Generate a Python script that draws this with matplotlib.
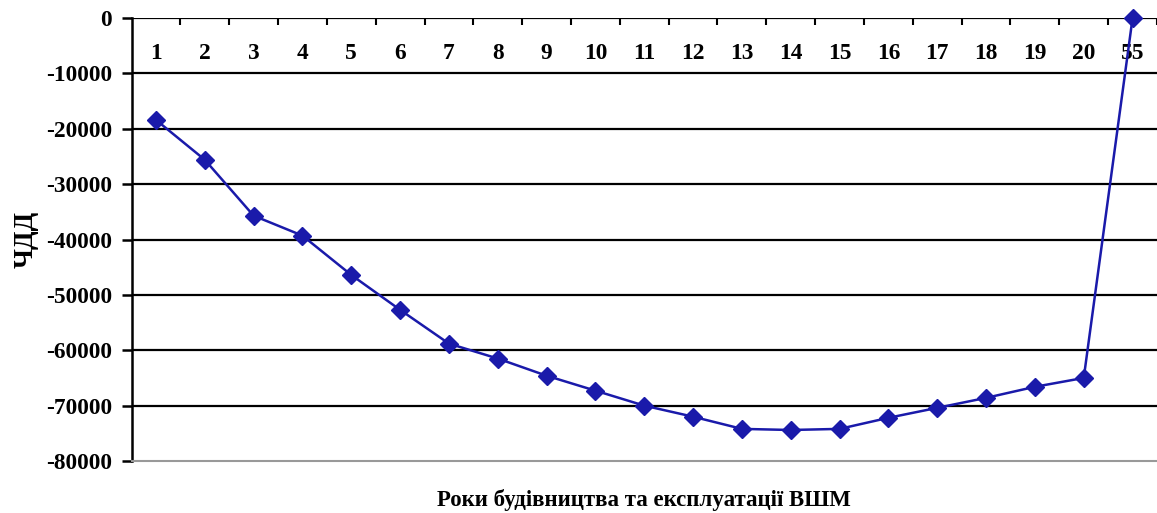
import numpy as np
import matplotlib.pyplot as plt

# Data
years = ['1', '2', '3', '4', '5', '6', '7', '8', '9', '10', '11', '12',
         '13', '14', '15', '16', '17', '18', '19', '20', '55']
npv = [-18400, -25600, -35700, -39300, -46400, -52700, -58800, -61500,
       -64600, -67300, -70000, -72000, -74200, -74400, -74200, -72200,
       -70400, -68600, -66600, -65000, 0]
y_ticks = list(range(0, -80001, -10000))

plt.rcParams['font.family'] = ['Liberation Serif', 'DejaVu Serif']
plt.rcParams['font.weight'] = 'bold'

fig = plt.figure(figsize=(11.57, 5.13), dpi=100)
W, H = 1157, 513
left, right, top, bottom = 131.5, 1157, 18, 461
ax = fig.add_axes([left / W, 1 - bottom / H, (right - left) / W, (bottom - top) / H])

x = np.arange(len(years))
ax.plot(x, npv, color='#1a1aaa', lw=1.8, marker='D', ms=9.5, clip_on=False, zorder=5)

ax.set_ylim(-80000, 0)
ax.set_xlim(-0.5, -0.5 + (right - left) / 49.1)
ax.set_yticks(y_ticks)
ax.set_yticklabels([str(v) for v in y_ticks], fontsize=16.8, fontweight='bold')
for v in y_ticks[:-1]:
    ax.axhline(v, color='black', lw=1.6, zorder=1)

ax.set_xticks(x)
ax.set_xticklabels(years, fontsize=16.8, fontweight='bold')
ax.set_xticks(np.arange(len(years)) + 0.5, minor=True)
ax.tick_params(axis='x', which='major', top=True, labeltop=True, bottom=False,
               labelbottom=False, length=0, pad=-33)
ax.tick_params(axis='x', which='minor', top=True, bottom=False, direction='in',
               length=5, width=1.5)
ax.tick_params(axis='y', length=7, width=1.8, pad=7)

ax.spines['right'].set_visible(False)
ax.spines['top'].set_visible(False)
ax.spines['left'].set_linewidth(1.8)
ax.spines['bottom'].set_color('#999999')
ax.spines['bottom'].set_linewidth(1.5)

ax.set_ylabel('ЧДД', fontsize=19.5, fontweight='bold', labelpad=5)
fig.text(0.5 * (left + 1157) / W + 0.0, 1 - 500 / H, 'Роки будівництва та експлуатації ВШМ',
         ha='center', va='center', fontsize=16.5, fontweight='bold')

fig.savefig('out.png', dpi=100)
